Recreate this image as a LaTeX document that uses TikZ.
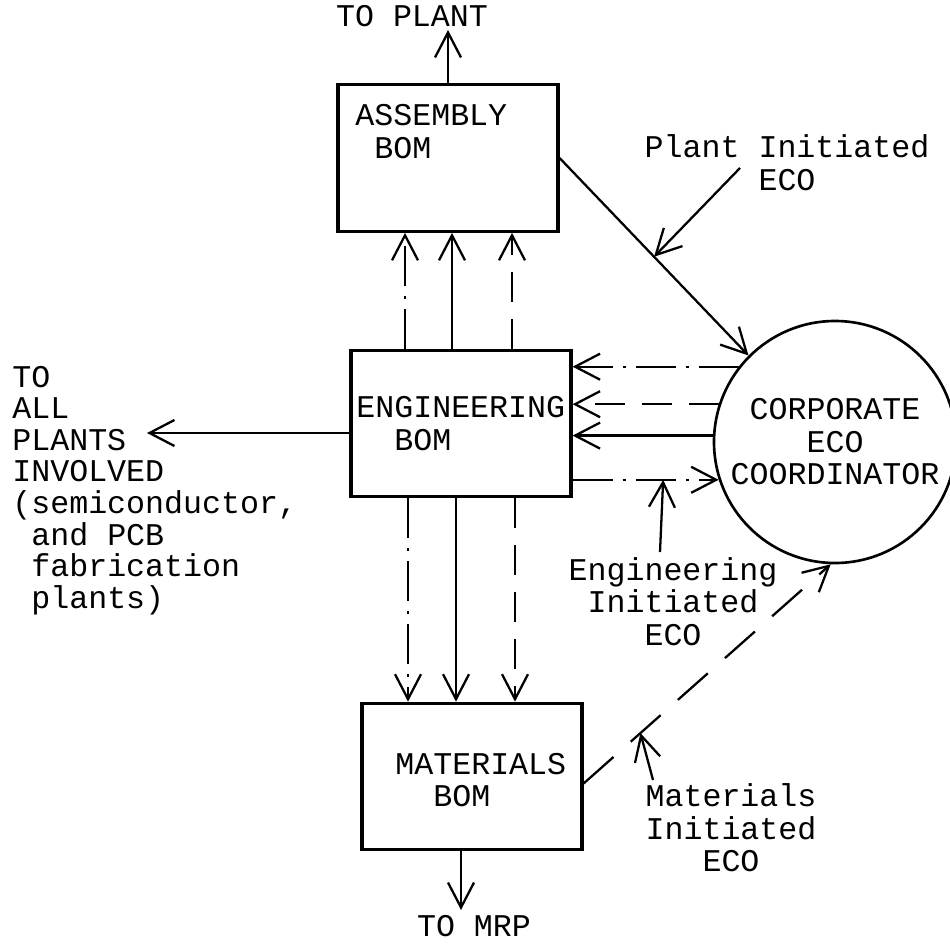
\documentclass[tikz,border=0pt]{standalone}
\usepackage{fontspec}
\setmonofont{Liberation Mono}
\usetikzlibrary{arrows.meta}

\begin{document}
\begin{tikzpicture}[x=0.2mm,y=-0.2mm,
  txt/.style={font=\ttfamily\fontsize{18}{18.5}\selectfont,inner sep=0pt},
  box/.style={draw,line width=1.8pt,inner sep=0pt,
              minimum width=44mm,minimum height=29.3mm},
  arr/.style={-{Straight Barb[length=5mm,width=5.2mm]},line width=1.3pt},
  arrdash/.style={arr,dash pattern=on 6mm off 3.4mm},
  arrdot/.style={arr,dash pattern=on 8mm off 2mm on 0.6mm off 2mm},
  arrlong/.style={arr,dash pattern=on 8mm off 4.6mm}]

  \useasboundingbox (0,0) rectangle (950,944);

  % the three BOMs and the coordinator
  \node[box] (asm) at (448,158) {};
  \node[box] (eng) at (461,423.5) {};
  \node[box] (mat) at (472,776.5) {};
  \node[txt,draw,circle,line width=1.5pt,minimum size=48.4mm,align=center]
       (eco) at (835,442) {CORPORATE\\ECO\\COORDINATOR};

  \node[txt,anchor=base west,align=left] (asmtxt) at (355,158.5)
       {ASSEMBLY\\\phantom{X}BOM};
  \node[txt,anchor=base west,align=left] (engtxt) at (356,450.5)
       {ENGINEERING\\\phantom{XX}BOM};
  \node[txt,anchor=base west,align=left] (mattxt) at (395,806.5)
       {MATERIALS\\\phantom{XX}BOM};

  % outside destinations
  \node[txt,anchor=base] (toplant) at (412,27) {TO PLANT};
  \node[txt,anchor=base] (tomrp) at (474,936.5) {TO MRP};
  \node[txt,anchor=base west,align=left,font=\ttfamily\fontsize{18}{18}\selectfont]
       (toall) at (12,608.5) {TO\\ALL\\PLANTS\\INVOLVED\\(semiconductor,\\
       \phantom{X}and PCB\\\phantom{X}fabrication\\\phantom{X}plants)};

  % where the ECOs start
  \node[txt,anchor=base,align=center] (plantlbl) at (787,190.5)
       {Plant Initiated\\ECO};
  \node[txt,anchor=base,align=center] (englbl) at (673,645.5)
       {Engineering\\Initiated\\ECO};
  \node[txt,anchor=base,align=center] (matlbl) at (731,871.5)
       {Materials\\Initiated\\ECO};

  \coordinate (plantout) at (448,30);
  \coordinate (mrpout) at (461,910);
  \coordinate (allout) at (147,433);
  \coordinate (upA) at (405,0);
  \coordinate (upB) at (452,0);
  \coordinate (upC) at (512,0);
  \coordinate (dnA) at (408,0);
  \coordinate (dnB) at (456,0);
  \coordinate (dnC) at (515,0);
  \coordinate (plantfrom) at (740,168);
  \coordinate (engfrom) at (660,552);
  \coordinate (matfrom) at (653,780);

  \draw[arr] (asm.north) -- (plantout);
  \draw[arr] (mat.south -| mrpout) -- (mrpout);
  \draw[arr] (eng.west |- allout) -- (allout);

  \draw[arrdot] (eng.north -| upA) -- (asm.south -| upA);
  \draw[arr] (eng.north -| upB) -- (asm.south -| upB);
  \draw[arrdash] (eng.north -| upC) -- (asm.south -| upC);

  \draw[arrdot] (eng.south -| dnA) -- (mat.north -| dnA);
  \draw[arr] (eng.south -| dnB) -- (mat.north -| dnB);
  \draw[arrdash] (eng.south -| dnC) -- (mat.north -| dnC);

  \draw[arr] (asm.east) -- coordinate[pos=0.5] (plantmid) (eco.135);
  \draw[arrdot] (eco.142) -- (eco.142 -| eng.east);
  \draw[arrdash] (eco.162) -- (eco.162 -| eng.east);
  \draw[arr] (eco.177) -- (eco.177 -| eng.east);
  \draw[arrdot] (eng.east |- eco.198) -- coordinate[pos=0.62] (engmid) (eco.198);
  \draw[arrlong] ([yshift=-1.4mm]mat.east) -- coordinate[pos=0.23] (matmid) (eco.268);

  \draw[arr] (plantfrom) -- (plantmid);
  \draw[arr] (engfrom) -- (engmid);
  \draw[arr] (matfrom) -- (matmid);
\end{tikzpicture}
\end{document}
